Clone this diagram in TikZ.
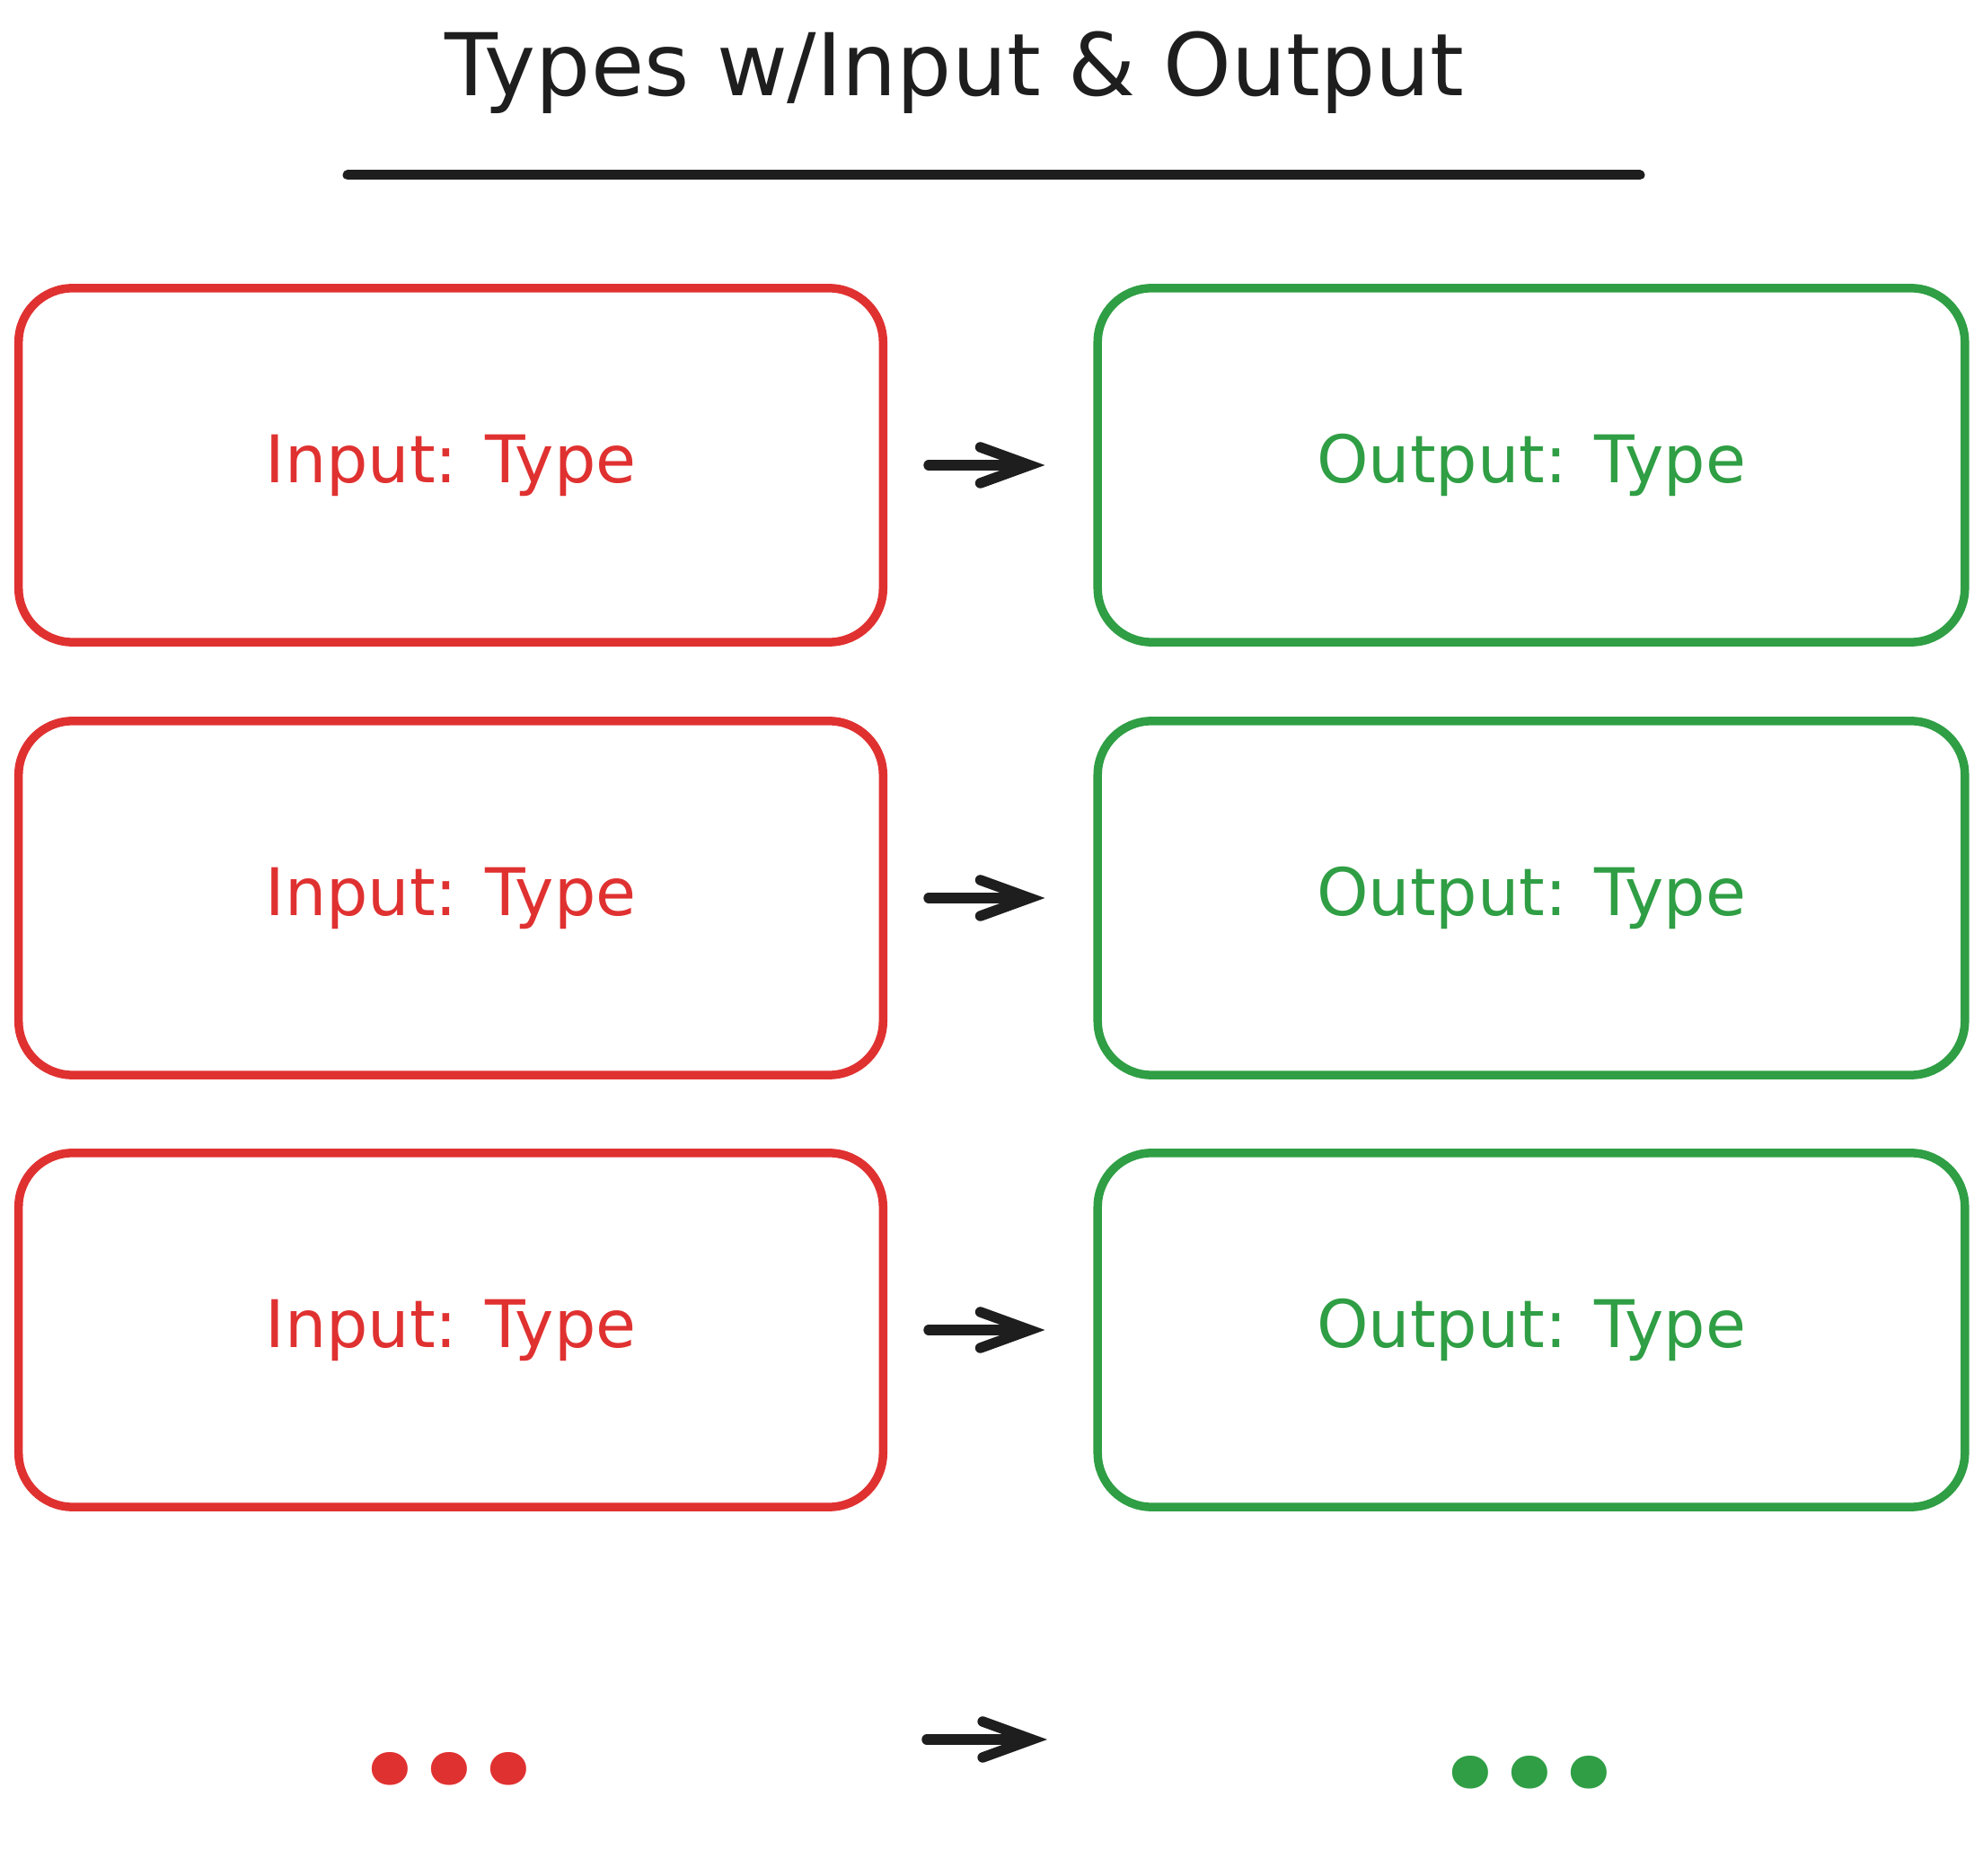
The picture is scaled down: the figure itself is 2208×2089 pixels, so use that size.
\documentclass[tikz,border=0pt]{standalone}
\usepackage{fontspec}
\setmainfont{DejaVu Sans}
\newfontfamily\dotfont{Poppins}
\usepackage{xcolor}
\usepackage{tikz}
\usetikzlibrary{arrows.meta}
\definecolor{inred}{RGB}{224,49,49}
\definecolor{outgreen}{RGB}{47,158,68}
\definecolor{inkblack}{RGB}{30,30,30}

\begin{document}
\begin{tikzpicture}[
    x=0.01cm, y=-0.01cm,
    >={Straight Barb[length=5.5mm, width=4mm, line cap=round]},
    typebox/.style={draw, rounded corners=6mm, line width=0.95mm, minimum height=3.94cm, align=center, font=\fontsize{20.8}{24}\selectfont},
    inbox/.style={typebox, inred, minimum width=9.62cm},
    outbox/.style={typebox, outgreen, minimum width=9.65cm},
    flow/.style={->, line width=1.15mm, line cap=round, inkblack, shorten <=4.6mm, shorten >=5.4mm},
    more/.style={anchor=base, inner sep=0pt, font=\dotfont\fontsize{56}{56}\selectfont\bfseries},
]
    \useasboundingbox (0,0) rectangle (2208,2089);

    % title and rule
    \node[anchor=base, inkblack, font=\fontsize{27.4}{32}\selectfont] (title) at (1063,107) {Types w/Input \& Output};
    \coordinate (rule-l) at (387,195);
    \coordinate (rule-r) at (1826,195);
    \draw[inkblack, line width=1.1mm, line cap=round] (rule-l) -- (rule-r);

    % inputs
    \node[inbox] (in1) at (502,518) {Input: Type};
    \node[inbox] (in2) at (502,1000) {Input: Type};
    \node[inbox] (in3) at (502,1481) {Input: Type};
    \node[more, inred] (in-more) at (500,1987) {.\kern3pt.\kern3pt.};

    % outputs
    \node[outbox] (out1) at (1705,518) {Output: Type};
    \node[outbox] (out2) at (1705,1000) {Output: Type};
    \node[outbox] (out3) at (1705,1481) {Output: Type};
    \node[more, outgreen] (out-more) at (1703,1991) {.\kern3pt.\kern3pt.};

    % mappings
    \draw[flow] (in1) -- (out1);
    \draw[flow] (in2) -- (out2);
    \draw[flow] (in3) -- (out3);
    \coordinate (more-a) at (1032,1937);
    \coordinate (more-b) at (1166,1937);
    \draw[flow, shorten <=0pt, shorten >=0pt] (more-a) -- (more-b);
\end{tikzpicture}
\end{document}
